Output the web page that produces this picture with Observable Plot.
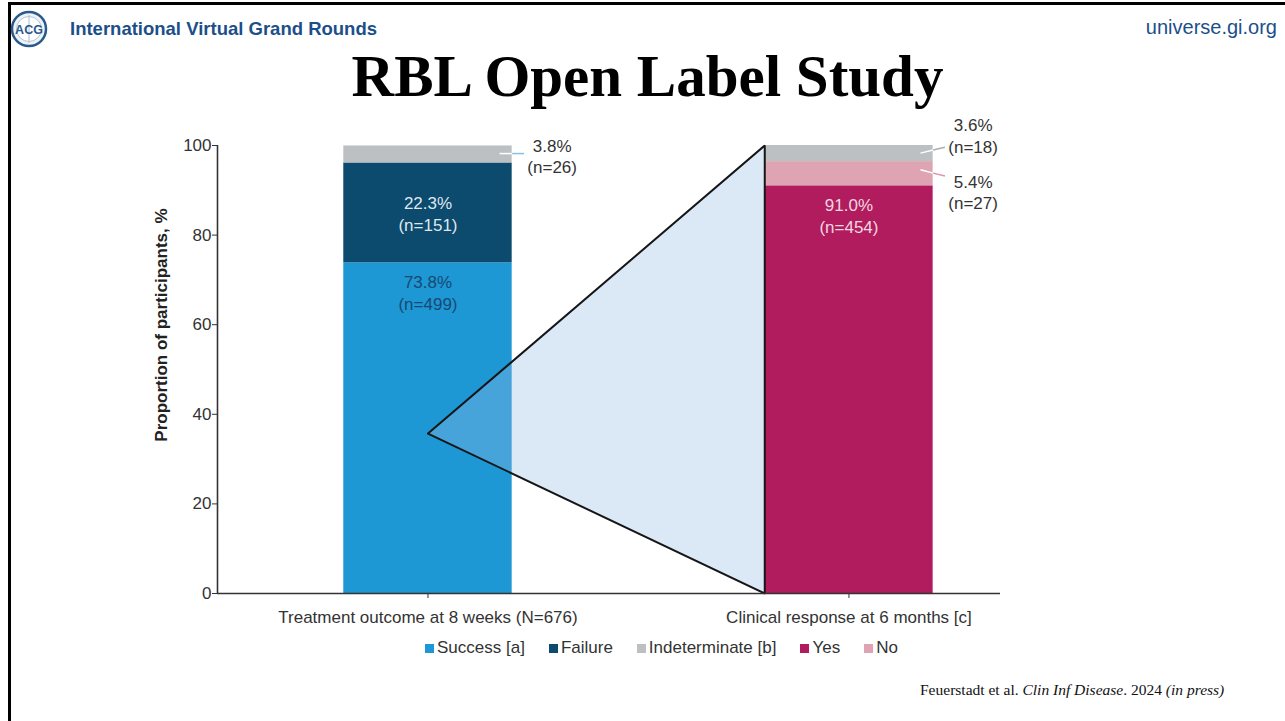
<!DOCTYPE html>
<html>
<head>
<meta charset="utf-8">
<script src="https://cdn.jsdelivr.net/npm/d3@7"></script>
<script src="https://cdn.jsdelivr.net/npm/@observablehq/plot@0.6"></script>
<style>
  html, body { margin: 0; padding: 0; background: #fff; }
  body { position: relative; width: 1285px; height: 721px; overflow: hidden; font-family: "Liberation Sans", Arial, sans-serif; }
  .topline { position: absolute; left: 8px; top: 2px; width: 1277px; height: 3px; background: #000; }
  .leftline { position: absolute; left: 8px; top: 2px; width: 3px; height: 719px; background: #000; }
  .brand { position: absolute; left: 70px; top: 18px; font: bold 18.5px "Liberation Sans", Arial, sans-serif; color: #1c4f8a; white-space: nowrap; }
  .site { position: absolute; right: 8px; top: 16px; font: 20px "Liberation Sans", Arial, sans-serif; color: #1c4f8a; white-space: nowrap; }
  .logo { position: absolute; left: 10px; top: 10px; }
  .title { position: absolute; left: 0; width: 1295px; top: 42px; text-align: center; font: bold 59px "Liberation Serif", "Times New Roman", serif; color: #000; white-space: nowrap; }
  #chart { position: absolute; left: 0; top: 110px; }
  .ylabel { position: absolute; left: 162px; top: 325px; transform: translate(-50%, -50%) rotate(-90deg); font: bold 17px "Liberation Sans", Arial, sans-serif; color: #222; white-space: nowrap; }
  .legend { position: absolute; left: 425px; top: 638px; display: flex; gap: 24px; font: 17px "Liberation Sans", Arial, sans-serif; color: #333; white-space: nowrap; }
  .legend .item { display: flex; align-items: center; }
  .legend .sw { width: 9px; height: 9px; margin-right: 3px; display: inline-block; }
  .cite { position: absolute; left: 920px; top: 681px; font: 15.5px "Liberation Serif", "Times New Roman", serif; color: #111; white-space: nowrap; }
</style>
</head>
<body>
<div class="topline"></div>
<div class="leftline"></div>
<svg class="logo" width="38" height="38" viewBox="0 0 38 38">
  <circle cx="19" cy="19" r="17" fill="#eef3f8" stroke="#2a5a8c" stroke-width="2.5"/>
  <circle cx="19" cy="19" r="12.5" fill="#fff" stroke="#9fb6cf" stroke-width="0.8"/>
  <path d="M19 5 L19 33" stroke="#b8c8d8" stroke-width="1.2"/>
  <text x="19" y="23.5" text-anchor="middle" font-family="Liberation Sans, Arial, sans-serif" font-weight="bold" font-size="12.5" fill="#2a5a8c">ACG</text>
</svg>
<div class="brand">International Virtual Grand Rounds</div>
<div class="site">universe.gi.org</div>
<div class="title">RBL Open Label Study</div>
<div id="chart"></div>
<div class="ylabel">Proportion of participants, %</div>
<div class="legend" id="legend"></div>
<div class="cite">Feuerstadt et al. <i>Clin Inf Disease</i>. 2024 <i>(in press)</i></div>

<script>
// ---------- data ----------
const categories = ["Treatment outcome at 8 weeks (N=676)", "Clinical response at 6 months [c]"];
const outcomeSegments = ["Success [a]", "Failure", "Indeterminate [b]"];
const outcomePct = [73.8, 22.3, 3.8];
const outcomeN = [499, 151, 26];
const responseSegments = ["Yes", "No", "Indeterminate [b]"];
const responsePct = [91.0, 5.4, 3.6];
const responseN = [454, 27, 18];
const legendItems = ["Success [a]", "Failure", "Indeterminate [b]", "Yes", "No"];
const legendColors = ["#1e97d5", "#0c4a6e", "#bdc0c2", "#b01c5d", "#dfa4b3"];
const yTicks = [0, 20, 40, 60, 80, 100];
const apexPct = 35.7;

// ---------- layout (kept out of data) ----------
const xDomain = [-0.5, 1.36];
const barHalf = 0.2;
const pxPerUnit = 421;
const textColors = {"Success [a]": "#174a72", "Failure": "#dfe7ee", "Yes": "#f5d6e2"};
const outsideLabelX = 0.295;
const outsideLabelY = {"0|Indeterminate [b]": 97.7, "1|Indeterminate [b]": 102.3, "1|No": 89.7};
const leaderY = {"0|Indeterminate [b]": [98.2, 98.2], "1|Indeterminate [b]": [98.3, 99.6], "1|No": [94.6, 93.2]};
const leaderColor = {"0|Indeterminate [b]": "#86bfe6", "1|Indeterminate [b]": "#a9aeb2", "1|No": "#d994a8"};

// ---------- build stacked rows ----------
const groups = [
  {cat: 0, segs: outcomeSegments, pct: outcomePct, n: outcomeN},
  {cat: 1, segs: responseSegments, pct: responsePct, n: responseN}
];
const rows = [];
for (const g of groups) {
  let acc = 0;
  g.segs.forEach((s, i) => {
    rows.push({cat: g.cat, seg: s, pct: g.pct[i], n: g.n[i], y1: acc, y2: acc + g.pct[i]});
    acc += g.pct[i];
  });
}
const labelText = d => `${d.pct.toFixed(1)}%\n(n=${d.n})`;
const inside = rows.filter(d => d.pct > 10);
const outside = rows.filter(d => d.pct <= 10);
const insideLabels = inside.map(d => ({...d, ly: d.pct > 50 ? d.y2 - 6.5 : (d.y1 + d.y2) / 2}));
const outsideLabels = outside.map(d => ({...d, lx: d.cat + outsideLabelX, ly: outsideLabelY[d.cat + "|" + d.seg]}));
const leadersIn = outside.map(d => {
  const k = d.cat + "|" + d.seg, [ya, yb] = leaderY[k];
  return {x1: d.cat + 0.17, x2: d.cat + barHalf, y1: ya, y2: ya + (yb - ya) * 0.55, stroke: "#ffffff"};
});
const leadersOut = outside.map(d => {
  const k = d.cat + "|" + d.seg, [ya, yb] = leaderY[k];
  return {x1: d.cat + barHalf, x2: d.cat + 0.228, y1: ya + (yb - ya) * 0.55, y2: yb, stroke: leaderColor[k]};
});
const triangle = [
  {x: 0, y: apexPct},
  {x: 1 - barHalf, y: 100},
  {x: 1 - barHalf, y: 0},
  {x: 0, y: apexPct}
];

const plotWidth = Math.round(pxPerUnit * (xDomain[1] - xDomain[0]));
const chart = Plot.plot({
  width: 1285,
  height: 530,
  marginLeft: 217,
  marginRight: 1285 - 217 - plotWidth,
  marginTop: 35,
  marginBottom: 47,
  style: {fontFamily: "'Liberation Sans', Arial, sans-serif", fontSize: "17px", color: "#333", background: "transparent", overflow: "visible"},
  x: {domain: xDomain, axis: null},
  y: {domain: [0, 100], axis: null},
  color: {domain: legendItems, range: legendColors},
  marks: [
    Plot.rect(rows, {x1: d => d.cat - barHalf, x2: d => d.cat + barHalf, y1: "y1", y2: "y2", fill: "seg"}),
    Plot.line(triangle, {x: "x", y: "y", fill: "#96bfe9", fillOpacity: 0.34, stroke: "#161616", strokeWidth: 2, strokeLinejoin: "miter"}),
    Plot.link(leadersIn, {x1: "x1", y1: "y1", x2: "x2", y2: "y2", stroke: "stroke", strokeWidth: 1.5}),
    Plot.link(leadersOut, {x1: "x1", y1: "y1", x2: "x2", y2: "y2", stroke: "stroke", strokeWidth: 1.5}),
    Plot.text(insideLabels, {x: "cat", y: "ly", text: labelText, fill: d => textColors[d.seg], fontSize: 17, lineHeight: 1.3}),
    Plot.text(outsideLabels, {x: "lx", y: "ly", text: labelText, fill: "#333", fontSize: 17, lineHeight: 1.25}),
    Plot.ruleY([0], {stroke: "#333", strokeWidth: 1.6}),
    Plot.ruleX([xDomain[0]], {y1: 0, y2: 100, stroke: "#333", strokeWidth: 1.6}),
    Plot.axisY(yTicks, {tickSize: 5, tickPadding: 1, label: null, fontSize: 17, stroke: "#333", fill: "#333"}),
    Plot.axisX([0, 1], {tickFormat: i => categories[i], tickSize: 5, tickPadding: 12, label: null, fontSize: 17, stroke: "#333", fill: "#333"})
  ]
});
document.getElementById("chart").appendChild(chart);

// legend
const legend = document.getElementById("legend");
legendItems.forEach((name, i) => {
  const item = document.createElement("div");
  item.className = "item";
  const sw = document.createElement("span");
  sw.className = "sw";
  sw.style.background = legendColors[i];
  const t = document.createElement("span");
  t.textContent = name;
  item.appendChild(sw);
  item.appendChild(t);
  legend.appendChild(item);
});
</script>
</body>
</html>
